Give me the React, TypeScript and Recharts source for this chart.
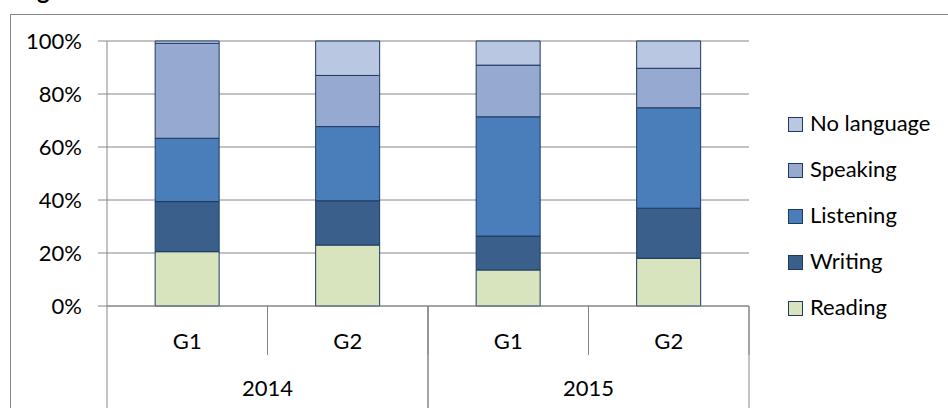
import { BarChart, Bar, XAxis, YAxis, CartesianGrid, Legend } from 'recharts';

// categories (two-level axis)
const grades = ['G1', 'G2', 'G1', 'G2'];
const years = ['2014', '2014', '2015', '2015'];

// share of pupils per skill, in %
const reading = [20.5, 23.0, 13.6, 18.0];
const writing = [18.9, 16.7, 12.8, 18.9];
const listening = [23.9, 28.0, 45.0, 37.9];
const speaking = [35.8, 19.3, 19.5, 14.9];
const noLanguage = [0.9, 13.0, 9.1, 10.3];

const yTicks = [0, 20, 40, 60, 80, 100];

const series = [
  { key: 'reading', name: 'Reading', color: '#D7E4BD', values: reading },
  { key: 'writing', name: 'Writing', color: '#3A5F8B', values: writing },
  { key: 'listening', name: 'Listening', color: '#4A7EBB', values: listening },
  { key: 'speaking', name: 'Speaking', color: '#95A9D1', values: speaking },
  { key: 'noLanguage', name: 'No language', color: '#B9C7E2', values: noLanguage },
];

const data = grades.map((grade, i) => {
  const row: { [k: string]: string | number } = { grade, year: years[i] };
  series.forEach((s) => {
    row[s.key] = s.values[i];
  });
  return row;
});

const AXIS_GRAY = '#868686';
const EDGE = '#1F3A60';
const FONT = 'Lato, "Open Sans", sans-serif';
const GRADE_AXIS_H = 49;
const YEAR_AXIS_H = 53;

const GradeTick = ({ x, y, payload, width, visibleTicksCount }: any) => {
  const off = payload.offset ?? width / (2 * visibleTicksCount);
  return (
    <g>
      <text x={x} y={y + 34} textAnchor="middle" dominantBaseline="central" fontSize={22} fontFamily={FONT} fill="#000">
        {payload.value}
      </text>
      <line x1={x + off} x2={x + off} y1={y} y2={y + GRADE_AXIS_H} stroke={AXIS_GRAY} />
    </g>
  );
};

const YearTick = ({ x, y, payload, width, visibleTicksCount }: any) => {
  const off = payload.offset ?? width / (2 * visibleTicksCount);
  return (
    <g>
      <text x={x} y={y + 32} textAnchor="middle" dominantBaseline="central" fontSize={22} fontFamily={FONT} fill="#000">
        {payload.value}
      </text>
      <line x1={x - off} x2={x - off} y1={y - GRADE_AXIS_H} y2={y + YEAR_AXIS_H + 10} stroke={AXIS_GRAY} />
      <line x1={x + off} x2={x + off} y1={y - GRADE_AXIS_H} y2={y + YEAR_AXIS_H + 10} stroke={AXIS_GRAY} />
    </g>
  );
};

// legend keeps the stacking order, top series first
const LegendContent = ({ payload }: any) => {
  const byName: { [k: string]: any } = {};
  (payload || []).forEach((p: any) => {
    byName[p.value] = p;
  });
  const items = [...series].reverse();
  return (
    <div style={{ fontFamily: FONT, fontSize: 22, color: '#000' }}>
      {items.map((s) => (
        <div key={s.key} style={{ display: 'flex', alignItems: 'center', height: 45.8 }}>
          <span
            style={{
              display: 'inline-block',
              width: 13,
              height: 13,
              background: byName[s.name]?.color ?? s.color,
              border: `1px solid ${EDGE}`,
              marginRight: 7,
              marginTop: 4,
            }}
          />
          <span>{s.name}</span>
        </div>
      ))}
    </div>
  );
};

export default function App() {
  return (
    <div
      style={{
        position: 'fixed',
        left: 0,
        top: 0,
        width: 948,
        height: 408,
        background: '#fff',
        overflow: 'hidden',
        fontFamily: FONT,
      }}
    >
      <div style={{ position: 'absolute', left: 37, top: -22, fontWeight: 700, fontSize: 24, lineHeight: '24px' }}>g</div>
      <div
        style={{
          position: 'absolute',
          left: 10,
          top: 14,
          width: 960,
          height: 420,
          border: `1px solid ${AXIS_GRAY}`,
        }}
      />
      <div style={{ position: 'absolute', left: 0, top: 0 }}>
        <BarChart
          width={948}
          height={408}
          data={data}
          margin={{ top: 41, right: 199, bottom: 0, left: 0 }}
          barCategoryGap="30%"
        >
          <CartesianGrid vertical={false} stroke={AXIS_GRAY} yAxisId="y" />
          <YAxis
            yAxisId="y"
            width={107}
            domain={[0, 100]}
            ticks={yTicks}
            tickFormatter={(v: number) => `${v}%`}
            axisLine={{ stroke: AXIS_GRAY }}
            tickLine={{ stroke: AXIS_GRAY }}
            tickSize={9}
            tickMargin={16}
            tick={{ fontSize: 22, fontFamily: FONT, fill: '#000' }}
          />
          <XAxis
            xAxisId="grade"
            dataKey="grade"
            height={GRADE_AXIS_H}
            axisLine={{ stroke: AXIS_GRAY }}
            tickLine={false}
            tickSize={0}
            tickMargin={0}
            interval={0}
            tick={<GradeTick />}
          />
          <XAxis
            xAxisId="year"
            dataKey="year"
            allowDuplicatedCategory={false}
            height={YEAR_AXIS_H}
            axisLine={false}
            tickLine={false}
            tickSize={0}
            tickMargin={0}
            interval={0}
            tick={<YearTick />}
          />
          <Legend
            layout="horizontal"
            verticalAlign="middle"
            align="center"
            content={<LegendContent />}
            wrapperStyle={{ left: 788, top: 100, width: 160, height: 235 }}
          />
          {series.map((s) => (
            <Bar
              key={s.key}
              dataKey={s.key}
              name={s.name}
              stackId="a"
              xAxisId="grade"
              yAxisId="y"
              fill={s.color}
              stroke={EDGE}
              strokeWidth={1}
              isAnimationActive={false}
            />
          ))}
        </BarChart>
      </div>
    </div>
  );
}
